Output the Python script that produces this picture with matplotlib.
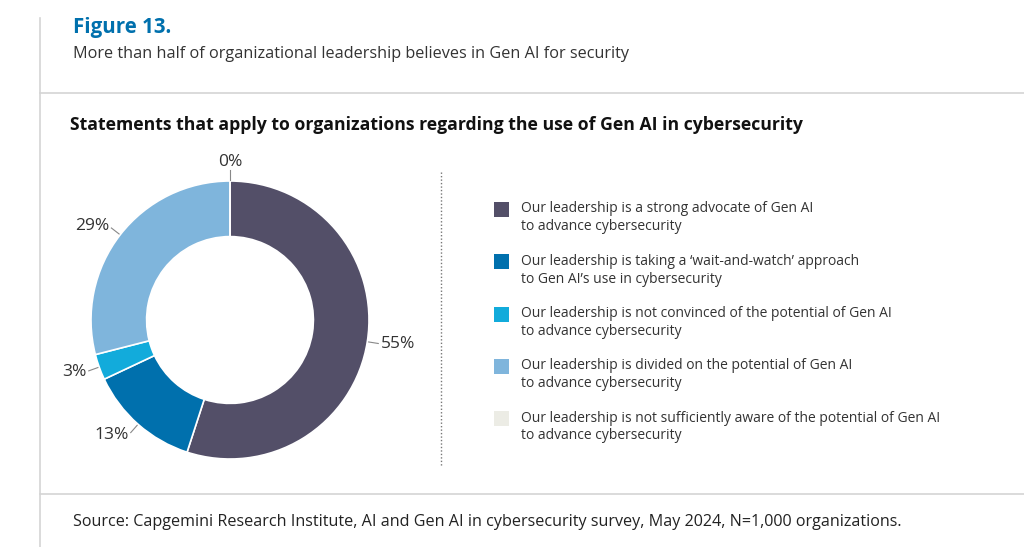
import numpy as np
import matplotlib
matplotlib.use("Agg")
import matplotlib.pyplot as plt
from matplotlib.patches import Rectangle

plt.rcParams['font.family'] = ['Open Sans', 'DejaVu Sans']

# data
labels = [
    "Our leadership is a strong advocate of Gen AI\nto advance cybersecurity",
    "Our leadership is taking a \u2018wait-and-watch\u2019 approach\nto Gen AI\u2019s use in cybersecurity",
    "Our leadership is not convinced of the potential of Gen AI\nto advance cybersecurity",
    "Our leadership is divided on the potential of Gen AI\nto advance cybersecurity",
    "Our leadership is not sufficiently aware of the potential of Gen AI\nto advance cybersecurity",
]
values = [55, 13, 3, 29, 0]
colors = ["#534f68", "#0070ad", "#12abdb", "#7fb5dc", "#ecece5"]

fig_title = "Figure 13."
fig_subtitle = "More than half of organizational leadership believes in Gen AI for security"
chart_title = "Statements that apply to organizations regarding the use of Gen AI in cybersecurity"
source = "Source: Capgemini Research Institute, AI and Gen AI in cybersecurity survey, May 2024, N=1,000 organizations."

W, H = 1024, 547
fig = plt.figure(figsize=(W / 100, H / 100), dpi=100)
fig.patch.set_facecolor("white")

# overlay in pixel coords for frame, texts and legend
ov = fig.add_axes([0, 0, 1, 1])
ov.set_xlim(0, W)
ov.set_ylim(H, 0)
ov.axis("off")

line_c = "#d4d4d4"
ov.plot([40, 40], [18, H], color=line_c, lw=1.2)
ov.plot([40, W], [93, 93], color=line_c, lw=1.2)
ov.plot([40, W], [494, 494], color=line_c, lw=1.2)

ov.text(73, 27, fig_title, color="#0070ad", fontsize=14.8, fontweight="bold", va="center")
ov.text(73, 54, fig_subtitle, color="#333333", fontsize=11.7, va="center")
ov.text(70, 125, chart_title, color="#111111", fontsize=12.7, fontweight="bold", va="center")
ov.text(73, 522, source, color="#222222", fontsize=11.6, va="center")

# dotted separator
ov.plot([441, 441], [172, 466], color="#777777", lw=1, ls=(0, (1, 1.5)))

# legend
for i, (lab, col) in enumerate(zip(labels, colors)):
    y = 210 + i * 52.3
    ov.add_patch(Rectangle((494, y - 8), 15, 15, facecolor=col, edgecolor="none"))
    ov.text(521, y - 8.5, lab, fontsize=10, color="#333333", va="top", linespacing=1.25)

# donut
ax = fig.add_axes([91 / W, (H - 459) / H, 278 / W, 278 / H])
wedges, _ = ax.pie(values, colors=colors, startangle=90, counterclock=False,
                   radius=1, wedgeprops=dict(width=0.4, edgecolor="white", linewidth=1.2))
ax.set_xlim(-1, 1)
ax.set_ylim(-1, 1)
ax.set_aspect("equal")
ax.axis("off")

for w, v in zip(wedges, values):
    ang = np.deg2rad((w.theta1 + w.theta2) / 2)
    c, s = np.cos(ang), np.sin(ang)
    ax.plot([1.01 * c, 1.08 * c], [1.01 * s, 1.08 * s], color="#888888", lw=0.8, clip_on=False)
    if abs(c) < 0.1:
        ha, va = "center", "bottom"
        pos = (1.1 * c, 1.08 * s)
    else:
        ha = "left" if c > 0 else "right"
        va = "center"
        pos = (1.1 * c, 1.1 * s)
    ax.text(pos[0], pos[1], f"{v}%", ha=ha, va=va, fontsize=12.5, color="#333333")

fig.savefig("out.png", dpi=100, facecolor="white")
